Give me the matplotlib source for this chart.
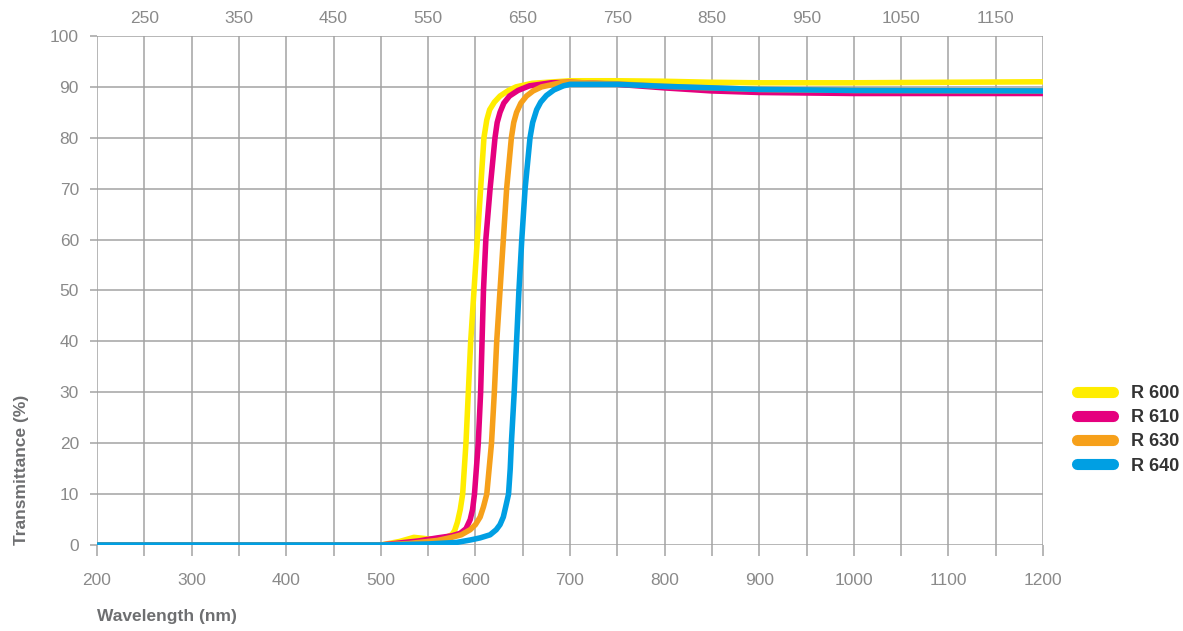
import numpy as np
import matplotlib
matplotlib.use('Agg')
import matplotlib.pyplot as plt

plt.rcParams['font.family'] = ['Liberation Sans', 'DejaVu Sans']

# R 600
wl_600 = [200, 500, 520, 535, 550, 565, 575, 578, 581, 584, 586.5, 590, 592.5, 595, 598.5, 602,
          605.5, 609, 612, 615, 620, 626, 635, 643, 660, 700, 750, 800, 850, 900, 1000, 1100, 1200]
t_600 = [0, 0, 0.7, 1.5, 1.2, 1.2, 2.0, 2.8, 4.5, 7, 10, 20, 30, 40, 50, 60,
         70, 80, 83.5, 85.5, 87, 88.2, 89.3, 90, 90.7, 91.2, 91.2, 91.1, 90.9, 90.8, 90.8, 90.9, 91.0]
# R 610
wl_610 = [200, 500, 520, 540, 560, 575, 584, 590, 594.5, 597, 599, 603, 605.5, 607, 608.5, 611,
          615.5, 620.7, 623, 626, 630, 636, 645, 657, 680, 700, 750, 800, 850, 900, 1000, 1100, 1200]
t_610 = [0, 0, 0.4, 0.8, 1.4, 1.8, 2.3, 3.2, 5, 7, 10, 20, 30, 40, 50, 60,
         70, 80, 83, 85, 86.8, 88.2, 89.3, 90.2, 90.8, 90.9, 90.5, 89.8, 89.2, 88.9, 88.7, 88.7, 88.7]
# R 630
wl_630 = [200, 500, 530, 560, 575, 585, 594.5, 600, 605, 608.5, 612, 614.5, 617, 620, 622.5, 626,
          629.5, 633, 638, 640.5, 643.5, 648, 654, 661, 670, 690, 700, 750, 800, 900, 1000, 1200]
t_630 = [0, 0, 0.3, 0.9, 1.5, 2.0, 3.0, 4, 5.5, 7.5, 10, 15, 20, 30, 40, 50,
         60, 70, 80, 83, 85, 86.8, 88.2, 89.2, 90, 90.8, 90.9, 90.6, 90.1, 89.5, 89.3, 89.2]
# R 640
wl_640 = [200, 500, 550, 580, 595, 605, 615.5, 622, 626, 629.5, 632, 635, 636.8, 638, 641, 643.5,
          646, 649, 652.5, 657.7, 660.5, 664.7, 669, 675, 683, 693, 700, 750, 800, 900, 1000, 1200]
t_640 = [0, 0, 0.2, 0.5, 1.0, 1.4, 2.0, 3, 4, 5.5, 7.5, 10, 15, 20, 30, 40,
         50, 60, 70, 80, 83, 85.5, 87, 88.3, 89.4, 90.2, 90.5, 90.5, 90.1, 89.5, 89.3, 89.2]

names = ['R 600', 'R 610', 'R 630', 'R 640']
colors = ['#FFED00', '#E5007E', '#F6A01A', '#009FE3']

bottom_ticks = list(range(200, 1201, 100))
top_ticks = list(range(250, 1151, 100))
y_ticks = list(range(0, 101, 10))

fig = plt.figure(figsize=(11.83, 6.31), dpi=100)
ax = fig.add_axes([0.082, 0.1363, 0.7997, 0.8067])

grid_c = '#a3a3a3'
for x in range(200, 1201, 50):
    ax.axvline(x, color=grid_c, lw=1.1, zorder=0)
for y in y_ticks:
    ax.axhline(y, color=grid_c, lw=1.1, zorder=0)

data = [(wl_600, t_600), (wl_610, t_610), (wl_630, t_630), (wl_640, t_640)]
for (wl, t), c, n in zip(data, colors, names):
    ax.plot(wl, t, color=c, lw=4.0, label=n, solid_capstyle='round',
            solid_joinstyle='round', zorder=3)

ax.set_xlim(200, 1200)
ax.set_ylim(0, 100)
for s in ax.spines.values():
    s.set_visible(False)
ax.set_xticks(range(200, 1201, 50))
ax.set_xticklabels([str(v) if v % 100 == 0 else '' for v in range(200, 1201, 50)])
ax.set_yticks(y_ticks)
ax.tick_params(axis='x', length=8, width=1.1, color=grid_c, labelcolor='#8a8a8a',
               labelsize=12.5, pad=12)
ax.tick_params(axis='y', length=5, width=1.1, color=grid_c, labelcolor='#8a8a8a',
               labelsize=12.5, pad=8)

top = ax.secondary_xaxis('top')
top.set_xticks(top_ticks)
top.tick_params(length=0, labelcolor='#8a8a8a', labelsize=12.5, pad=7)
for s in top.spines.values():
    s.set_visible(False)

fig.text(97 / 1183, 1 - 617 / 631, 'Wavelength (nm)', ha='left', va='center',
         fontsize=12.5, fontweight='bold', color='#6e6f71')
fig.text(22 / 1183, 1 - 545 / 631, 'Transmittance (%)', ha='center', va='bottom',
         rotation=90, fontsize=12.5, fontweight='bold', color='#6e6f71')

leg = ax.legend(loc='upper left', bbox_to_anchor=(1068 / 1183, 1 - 376 / 631),
                bbox_transform=fig.transFigure, frameon=False, fontsize=13,
                handlelength=2.0, handletextpad=1.0, labelspacing=0.4, borderpad=0)
for line in leg.get_lines():
    line.set_linewidth(8)
    line.set_solid_capstyle('round')
for txt in leg.get_texts():
    txt.set_fontweight('bold')
    txt.set_color('#333333')

fig.savefig('out.png', dpi=100)
